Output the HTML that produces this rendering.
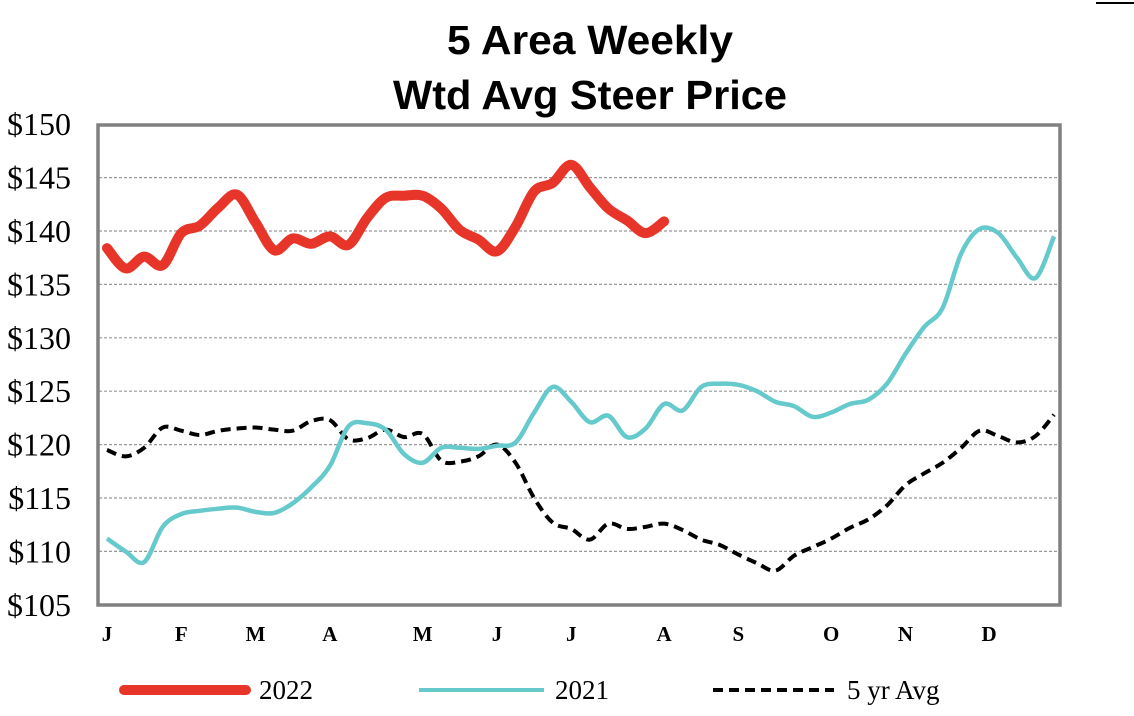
<!DOCTYPE html>
<html><head><meta charset="utf-8"><style>
body{margin:0;background:#fff;width:1134px;height:716px;overflow:hidden}
svg{display:block}
</style></head><body>
<svg id="chart" width="1134" height="716" viewBox="0 0 1134 716" xmlns="http://www.w3.org/2000/svg">
<line x1="1096" y1="3" x2="1134" y2="3" stroke="#000" stroke-width="2"/>
<text x="590" y="54" text-anchor="middle" font-family="'Liberation Sans',sans-serif" font-weight="bold" font-size="41" textLength="286" lengthAdjust="spacingAndGlyphs">5 Area Weekly</text>
<text x="590" y="109" text-anchor="middle" font-family="'Liberation Sans',sans-serif" font-weight="bold" font-size="41" textLength="394" lengthAdjust="spacingAndGlyphs">Wtd Avg Steer Price</text>
<g id="grid"></g>
<g id="yticks"></g>
<g id="xticks"></g>
<g id="series"></g>
<rect x="98" y="125" width="962" height="480" fill="none" stroke="#808080" stroke-width="3.5"/>
<g>
<line x1="124" y1="690" x2="246" y2="690" stroke="#e8352a" stroke-width="10" stroke-linecap="round"/>
<text x="259" y="699" font-family="'Liberation Serif',serif" font-size="27">2022</text>
<line x1="419" y1="690" x2="544" y2="690" stroke="#66c9cb" stroke-width="4"/>
<text x="555" y="699" font-family="'Liberation Serif',serif" font-size="27">2021</text>
<line x1="713" y1="690" x2="834" y2="690" stroke="#000" stroke-width="4" stroke-dasharray="10,6"/>
<text x="847" y="699" font-family="'Liberation Serif',serif" font-size="27">5 yr Avg</text>
</g>
</svg>
<script>
const yTicks=[105,110,115,120,125,130,135,140,145,150];
const monthLabels=["J","F","M","A","M","J","J","A","S","O","N","D"];
const monthWeeks=[0,4,8,12,17,21,25,30,34,39,43,47.5];
const series2022=[138.4,136.5,137.6,136.8,139.8,140.5,142.2,143.4,140.8,138.2,139.3,138.8,139.5,138.7,141.2,143.1,143.3,143.3,142.1,140.1,139.2,138.1,140.4,143.7,144.5,146.2,144.1,142.1,141.0,139.8,140.9];
const series2021=[111.2,110.0,109.0,112.3,113.5,113.8,114.0,114.1,113.7,113.6,114.5,116.0,118.0,121.7,122.0,121.4,119.1,118.3,119.7,119.7,119.6,119.9,120.2,123.0,125.4,124.0,122.1,122.7,120.7,121.5,123.8,123.2,125.4,125.7,125.6,125.0,124.0,123.6,122.6,123.0,123.8,124.2,125.7,128.5,131.0,132.8,137.9,140.2,139.8,137.5,135.6,139.5];
const series5yr=[119.5,118.9,119.7,121.6,121.3,120.9,121.3,121.5,121.6,121.4,121.3,122.2,122.3,120.5,120.6,121.4,120.7,121.0,118.5,118.4,118.9,120.0,118.3,115.0,112.7,112.1,111.1,112.6,112.1,112.3,112.6,112.0,111.1,110.6,109.7,108.9,108.2,109.6,110.4,111.2,112.2,113.0,114.3,116.2,117.3,118.3,119.7,121.3,120.8,120.2,120.8,122.8];

const NS="http://www.w3.org/2000/svg";
const yScale=v=>604.8-(v-105)*(480.6/45);
const xScale=w=>107+w*18.57;
function mk(tag,attrs,parent){const e=document.createElementNS(NS,tag);for(const k in attrs)e.setAttribute(k,attrs[k]);parent.appendChild(e);return e;}
const grid=document.getElementById('grid'),yt=document.getElementById('yticks'),xt=document.getElementById('xticks'),sg=document.getElementById('series');
yTicks.forEach(v=>{
  if(v>105&&v<150){const l=mk('line',{x1:99,x2:1059,y1:yScale(v),y2:yScale(v),stroke:'#999','stroke-width':1.2,'stroke-dasharray':'3,2'},grid);
  
  }
  const t=mk('text',{x:71,y:yScale(v)+11,'text-anchor':'end','font-family':"'Liberation Serif',serif",'font-size':32},yt);
  t.textContent='$'+v;
  
  
});
monthLabels.forEach((m,i)=>{
  const t=mk('text',{x:xScale(monthWeeks[i]),y:641,'text-anchor':'middle','font-family':"'Liberation Serif',serif",'font-weight':'bold','font-size':21},xt);
  t.textContent=m;
  
  
});
function smooth(vals){
  const p=vals.map((v,i)=>[xScale(i),yScale(v)]);
  let d='M'+p[0][0]+','+p[0][1];
  for(let i=0;i<p.length-1;i++){
    const p0=p[i-1]||p[i],p1=p[i],p2=p[i+1],p3=p[i+2]||p2;
    const c1=[p1[0]+(p2[0]-p0[0])/6,p1[1]+(p2[1]-p0[1])/6];
    const c2=[p2[0]-(p3[0]-p1[0])/6,p2[1]-(p3[1]-p1[1])/6];
    d+=' C'+c1.join(',')+' '+c2.join(',')+' '+p2.join(',');
  }
  return d;
}
const l5=mk('path',{d:smooth(series5yr),fill:'none',stroke:'#000','stroke-width':4,'stroke-dasharray':'10,6'},sg);


const l21=mk('path',{d:smooth(series2021),fill:'none',stroke:'#66c9cb','stroke-width':4.5},sg);


const l22=mk('path',{d:smooth(series2022),fill:'none',stroke:'#e8352a','stroke-width':10,'stroke-linecap':'round','stroke-linejoin':'round'},sg);


</script>
</body></html>
